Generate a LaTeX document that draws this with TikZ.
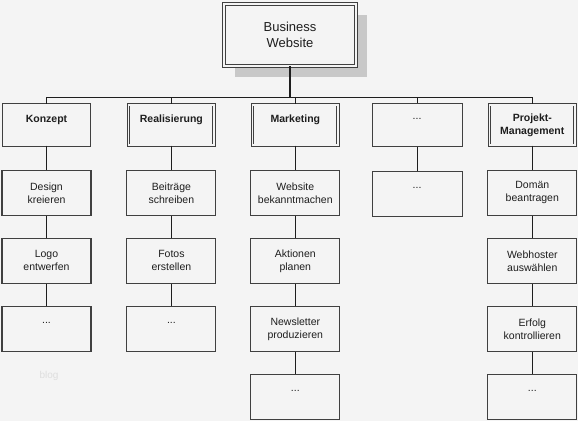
\documentclass[tikz,border=0pt]{standalone}
\usepackage{fontspec}
\setmainfont{Liberation Sans}
\usetikzlibrary{positioning,shadows}
\definecolor{bg}{RGB}{244,244,244}
\definecolor{edge}{RGB}{64,64,64}
\definecolor{shade}{RGB}{200,200,200}
\definecolor{ink}{RGB}{30,30,30}
\definecolor{faint}{RGB}{222,222,222}

\begin{document}
\begin{tikzpicture}[x=1pt, y=-1pt,
    node distance=22pt,
    box/.style={draw=edge, line width=1.1pt, fill=bg, minimum width=89pt,
      minimum height=45pt, inner sep=1pt, align=center,
      font=\fontsize{10.5}{13}\selectfont, text=ink},
    head/.style={box, double=bg, double distance=1.6pt, line width=0.9pt,
      minimum width=85.5pt, minimum height=40.5pt,
      font=\fontsize{10.5}{13}\selectfont\bfseries},
    root/.style={head, minimum width=132pt, minimum height=62pt,
      font=\fontsize{13}{16}\selectfont,
      drop shadow={shadow xshift=11pt, shadow yshift=-11pt, fill=shade, opacity=1}},
    conn/.style={draw=ink, line width=1.1pt},
    trunk/.style={conn, line width=2.2pt}
  ]
    \clip (0,0) rectangle (578,421);
    \fill[bg] (0,0) rectangle (578,421);

    % Root
    \node[root] (web) at (290,35) {Business\\Website};

    % Row 1: main areas
    \node[head] (konzept) at (46.5,125) {Konzept\\~};
    \node[head, right=38.5pt of konzept] (real) {Realisierung\\~};
    \node[head, right=37.5pt of real] (mark) {Marketing\\~};
    \node[box, minimum width=90pt, minimum height=43pt, right=33pt of mark] (dots) {...\\~};
    \node[head, right=26.5pt of dots] (pm) {Projekt-\\Management};

    % Column: Konzept
    \node[box, below=24pt of konzept] (design) {Design\\kreieren};
    \node[box, below=of design] (logo) {Logo\\entwerfen};
    \node[box, below=of logo] (kmore) {...\\~};

    % Column: Realisierung
    \node[box, below=24pt of real] (beitr) {Beiträge\\schreiben};
    \node[box, below=of beitr] (fotos) {Fotos\\erstellen};
    \node[box, below=of fotos] (rmore) {...\\~};

    % Column: Marketing
    \node[box, below=24pt of mark] (bekannt) {Website\\bekanntmachen};
    \node[box, below=of bekannt] (aktion) {Aktionen\\planen};
    \node[box, below=of aktion] (news) {Newsletter\\produzieren};
    \node[box, below=of news] (mmore) {...\\~};

    % Column: ...
    \node[box, minimum width=90pt, below=24pt of dots] (dmore) {...\\~};

    % Column: Projekt-Management
    \node[box, below=24pt of pm] (domain) {Domän\\beantragen};
    \node[box, below=of domain] (hoster) {Webhoster\\auswählen};
    \node[box, below=of hoster] (erfolg) {Erfolg\\kontrollieren};
    \node[box, below=of erfolg] (pmore) {...\\~};

    % Connectors
    \draw[trunk] (web.south) -- ++(0,31) coordinate (bar);
    \foreach \n in {konzept,real,mark,dots,pm}
      \draw[conn] (bar) -| (\n.north);
    \draw[conn] (konzept) -- (design) -- (logo) -- (kmore);
    \draw[conn] (real) -- (beitr) -- (fotos) -- (rmore);
    \draw[conn] (mark) -- (bekannt) -- (aktion) -- (news) -- (mmore);
    \draw[conn] (dots) -- (dmore);
    \draw[conn] (pm) -- (domain) -- (hoster) -- (erfolg) -- (pmore);

    % Watermark
    \node[text=faint, font=\fontsize{10}{12}\selectfont] (mark0) at (49,376) {blog};
  \end{tikzpicture}
\end{document}
